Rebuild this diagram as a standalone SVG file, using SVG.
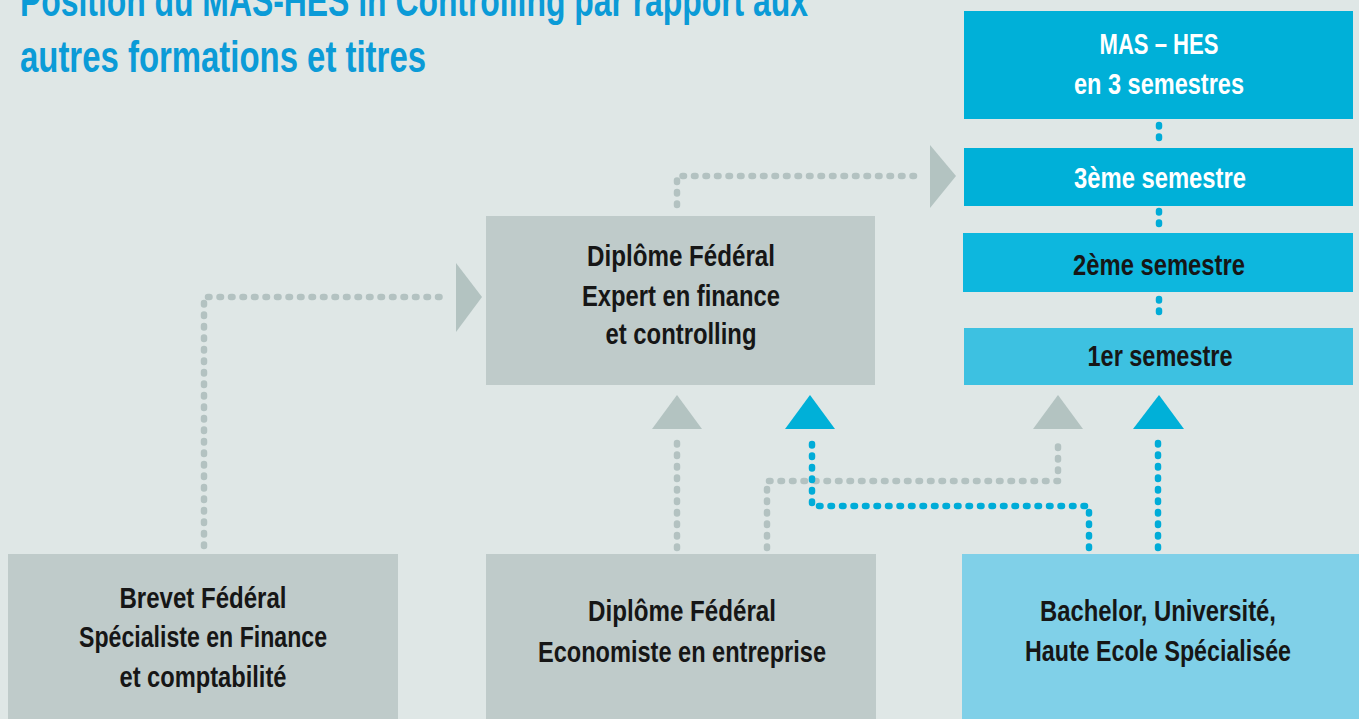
<svg xmlns="http://www.w3.org/2000/svg" width="1359" height="719" viewBox="0 0 1359 719">
<style>
.t{font-family:"Liberation Sans","DejaVu Sans",sans-serif;font-weight:bold;text-anchor:middle;font-size:29px;fill:#161616}
.w{fill:#ffffff}
.title{font-family:"Liberation Sans","DejaVu Sans",sans-serif;font-weight:bold;font-size:44px;fill:#0b9bd7}
.g{fill:#bfcbca}
.b1{fill:#00b0d8}
.gd{fill:none;stroke:#b3c2c1;stroke-width:6.5;stroke-linecap:round;stroke-dasharray:1.5 10}
.bd{fill:none;stroke:#00acd8;stroke-width:6.5;stroke-linecap:round;stroke-dasharray:1.5 10}
.ga{fill:#b3c3c1}
.ba{fill:#00b0d8}
</style>
<rect width="1359" height="719" fill="#dfe7e6"/>
<g id="title">
<text class="title" x="20" y="16" textLength="788" lengthAdjust="spacingAndGlyphs">Position du MAS-HES in Controlling par rapport aux</text>
<text class="title" x="20" y="72" textLength="406" lengthAdjust="spacingAndGlyphs">autres formations et titres</text>
</g>
<g id="connectors">
<path class="gd" d="M204 546 V297 H447"/>
<polygon class="ga" points="456,263 482,297 456,332"/>
<path class="gd" d="M677 205 V176 H920"/>
<polygon class="ga" points="930,145 956,176 930,208"/>
<path class="gd" d="M677 548 V438"/>
<polygon class="ga" points="652,429 677,395 702,429"/>
<path class="gd" d="M767 548 V481 H1058 V438"/>
<polygon class="ga" points="1033,429 1058,395 1083,429"/>
<path class="bd" d="M1089 548 V506 H812 V438"/>
<polygon class="ba" points="785,429 810,395 835,429"/>
<path class="bd" d="M1158 548 V438"/>
<polygon class="ba" points="1133,429 1159,395 1184,429"/>
<path class="bd" d="M1159 125 V145"/>
<path class="bd" d="M1159 211 V230"/>
<path class="bd" d="M1159 299 V318"/>
</g>
<g id="mas">
<rect class="b1" x="964" y="11" width="389" height="108"/>
<text class="t w" x="1159" y="54" textLength="119" lengthAdjust="spacingAndGlyphs">MAS – HES</text>
<text class="t w" x="1159" y="94" textLength="170" lengthAdjust="spacingAndGlyphs">en 3 semestres</text>
</g>
<g id="sem3">
<rect class="b1" x="964" y="148" width="389" height="58"/>
<text class="t w" x="1160" y="188" textLength="172" lengthAdjust="spacingAndGlyphs">3ème semestre</text>
</g>
<g id="sem2">
<rect x="963" y="233" width="390" height="59" fill="#0db7de"/>
<text class="t" x="1159" y="275" textLength="172" lengthAdjust="spacingAndGlyphs">2ème semestre</text>
</g>
<g id="sem1">
<rect x="964" y="328" width="389" height="57" fill="#3dc1e1"/>
<text class="t" x="1160" y="366" textLength="145" lengthAdjust="spacingAndGlyphs">1er semestre</text>
</g>
<g id="expert">
<rect class="g" x="486" y="216" width="389" height="169"/>
<text class="t" x="681" y="266" textLength="188" lengthAdjust="spacingAndGlyphs">Diplôme Fédéral</text>
<text class="t" x="681" y="306" textLength="198" lengthAdjust="spacingAndGlyphs">Expert en finance</text>
<text class="t" x="681" y="344" textLength="151" lengthAdjust="spacingAndGlyphs">et controlling</text>
</g>
<g id="brevet">
<rect class="g" x="8" y="554" width="390" height="165"/>
<text class="t" x="203" y="608" textLength="167" lengthAdjust="spacingAndGlyphs">Brevet Fédéral</text>
<text class="t" x="203" y="647" textLength="248" lengthAdjust="spacingAndGlyphs">Spécialiste en Finance</text>
<text class="t" x="203" y="687" textLength="167" lengthAdjust="spacingAndGlyphs">et comptabilité</text>
</g>
<g id="economiste">
<rect class="g" x="486" y="554" width="390" height="165"/>
<text class="t" x="682" y="621" textLength="188" lengthAdjust="spacingAndGlyphs">Diplôme Fédéral</text>
<text class="t" x="682" y="662" textLength="288" lengthAdjust="spacingAndGlyphs">Economiste en entreprise</text>
</g>
<g id="bachelor">
<rect x="962" y="554" width="397" height="165" fill="#80d0e8"/>
<text class="t" x="1158" y="621" textLength="236" lengthAdjust="spacingAndGlyphs">Bachelor, Université,</text>
<text class="t" x="1158" y="661" textLength="266" lengthAdjust="spacingAndGlyphs">Haute Ecole Spécialisée</text>
</g>
</svg>
